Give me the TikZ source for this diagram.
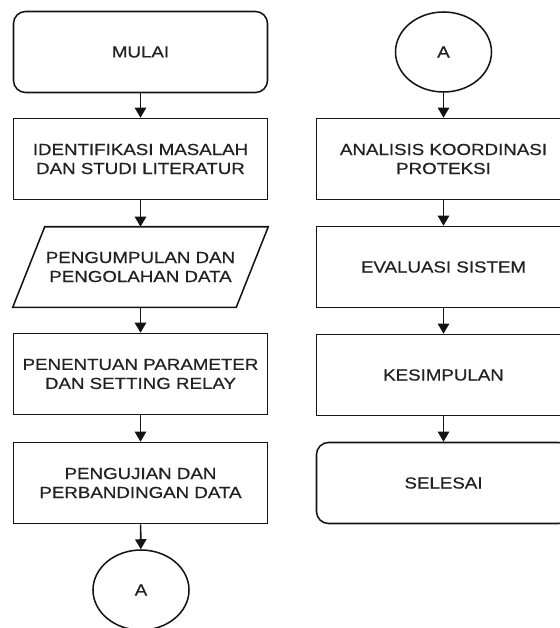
\documentclass[tikz,border=0pt]{standalone}
\usepackage{fontspec}
\setmainfont{Liberation Sans}[FakeStretch=1.17,FakeBold=0.6]
\usetikzlibrary{arrows.meta,shapes.geometric}
\definecolor{linec}{HTML}{141414}
\definecolor{textc}{HTML}{222222}
\begin{document}
\begin{tikzpicture}[x=0.75pt,y=-0.75pt,
  font=\fontsize{12}{14.25}\selectfont,
  every node/.style={text=textc,align=center},
  procbox/.style={draw=linec,line width=1.15pt,rectangle,minimum width=190.5pt,minimum height=60.75pt,inner sep=0pt},
  termbox/.style={procbox,rounded corners=9pt},
  datatext/.style={rectangle,minimum width=191.25pt,minimum height=60pt,inner sep=0pt},
  datashape/.style={draw=linec,line width=1.15pt,line join=miter},
  connbox/.style={draw=linec,line width=1.15pt,ellipse,minimum width=72pt,minimum height=60pt,inner sep=0pt},
  flow/.style={draw=linec,line width=1.15pt,-{Triangle[width=8.5pt,length=7.5pt]}}]
\useasboundingbox (0,0) rectangle (560,628);
% left column
\node[termbox] (mulai) at (140.5,52) {MULAI};
\node[procbox] (ident) at (140.5,159) {IDENTIFIKASI MASALAH\\DAN STUDI LITERATUR};
\node[datatext] (data) at (140.5,267) {PENGUMPULAN DAN\\PENGOLAHAN DATA};
\draw[datashape] (data.south west) -- ([xshift=24pt]data.north west) -- (data.north east) -- ([xshift=-24pt]data.south east) -- cycle;
\node[procbox] (param) at (140.5,374) {PENENTUAN PARAMETER\\DAN SETTING RELAY};
\node[procbox] (uji) at (140.5,483) {PENGUJIAN DAN\\PERBANDINGAN DATA};
\node[connbox] (a1) at (141,590) {A};
% right column
\node[connbox] (a2) at (443.5,52) {A};
\node[procbox] (anal) at (443.5,159) {ANALISIS KOORDINASI\\PROTEKSI};
\node[procbox] (eval) at (443.5,267) {EVALUASI SISTEM};
\node[procbox] (kes) at (443.5,375) {KESIMPULAN};
\node[termbox] (sel) at (443.5,483) {SELESAI};
% connectors
\draw[flow] (mulai) -- (ident);
\draw[flow] (ident) -- (data);
\draw[flow] (data) -- (param);
\draw[flow] (param) -- (uji);
\draw[flow] (uji) -- (a1);
\draw[flow] (a2) -- (anal);
\draw[flow] (anal) -- (eval);
\draw[flow] (eval) -- (kes);
\draw[flow] (kes) -- (sel);
\end{tikzpicture}
\end{document}
